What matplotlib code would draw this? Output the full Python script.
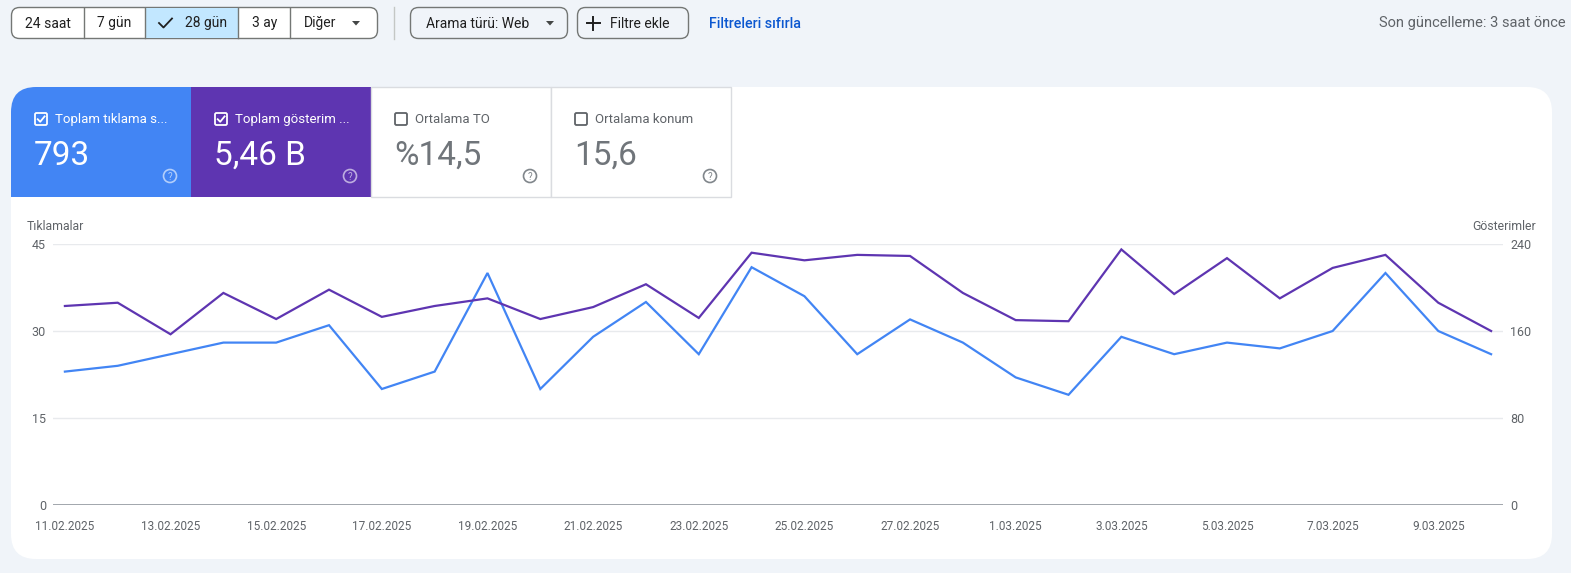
import matplotlib
matplotlib.use("Agg")
import matplotlib.pyplot as plt
from matplotlib.patches import FancyBboxPatch, Rectangle, Circle, Polygon

# ---------------- data ----------------
dates = ["11.02.2025", "12.02.2025", "13.02.2025", "14.02.2025", "15.02.2025",
         "16.02.2025", "17.02.2025", "18.02.2025", "19.02.2025", "20.02.2025",
         "21.02.2025", "22.02.2025", "23.02.2025", "24.02.2025", "25.02.2025",
         "26.02.2025", "27.02.2025", "28.02.2025", "1.03.2025", "2.03.2025",
         "3.03.2025", "4.03.2025", "5.03.2025", "6.03.2025", "7.03.2025",
         "8.03.2025", "9.03.2025", "10.03.2025"]
clicks = [23, 24, 26, 28, 28, 31, 20, 23, 40, 20, 29, 35, 26, 41, 36, 26, 32, 28,
          22, 19, 29, 26, 28, 27, 30, 40, 30, 26]
impressions = [183, 186, 157, 195, 171, 198, 173, 183, 190, 171, 182, 203, 172, 232,
               225, 230, 229, 195, 170, 169, 235, 194, 227, 190, 218, 230, 186, 160]
left_ticks = [0, 15, 30, 45]
right_ticks = [0, 80, 160, 240]
metric_titles = ["Toplam tıklama s...", "Toplam gösterim ...", "Ortalama TO", "Ortalama konum"]
metric_values = ["793", "5,46 B", "%14,5", "15,6"]
range_buttons = ["24 saat", "7 gün", "28 gün", "3 ay", "Diğer"]

# ---------------- style ----------------
plt.rcParams['font.family'] = ['Roboto', 'DejaVu Sans']
W, H = 1571, 573
PAGE = '#f0f4f9'
BLUE = '#4285f4'
PURPLE = '#5e35b1'
GRAY = '#5f6368'
DARK = '#1f1f1f'

fig = plt.figure(figsize=(W / 100, H / 100), dpi=100, facecolor=PAGE)
bg = fig.add_axes([0, 0, 1, 1], zorder=0)
bg.set_xlim(0, W)
bg.set_ylim(H, 0)
bg.axis('off')
bg.set_facecolor(PAGE)

# ---- top bar ----
bg.add_patch(FancyBboxPatch((11.5, 7.5), 366, 31, boxstyle="round,pad=0,rounding_size=8",
                            fc='white', ec='#747775', lw=1, zorder=1))
bg.add_patch(Rectangle((145, 8), 93, 30, fc='#c2e7ff', ec='none', zorder=1.5))
for xd in [84, 145, 238, 290]:
    bg.plot([xd, xd], [8, 38], color='#747775', lw=1, zorder=2)
seg_centers = [47.5, 114.5, 206, 264.5, 320]
for i, (lab, cx) in enumerate(zip(range_buttons, seg_centers)):
    bg.text(cx, 23.5, lab, fontsize=10, color=DARK, ha='center', va='center', zorder=3)
# check mark for selected segment
bg.plot([159, 163.5, 172], [23, 27.5, 18.5], color=DARK, lw=1.3, zorder=3)
# dropdown triangle
bg.add_patch(Polygon([[352, 21], [360, 21], [356, 25.5]], closed=True, fc='#444746', ec='none', zorder=3))

# separator
bg.plot([394.5, 394.5], [7, 39], color='#c4c7c5', lw=1, zorder=2)

# Arama türü button
bg.add_patch(FancyBboxPatch((410.5, 7.5), 157, 31, boxstyle="round,pad=0,rounding_size=8",
                            fc='none', ec='#747775', lw=1, zorder=2))
bg.text(426, 23.5, "Arama türü: Web", fontsize=10, color=DARK, ha='left', va='center', zorder=3)
bg.add_patch(Polygon([[546, 21], [554, 21], [550, 25.5]], closed=True, fc='#444746', ec='none', zorder=3))

# Filtre ekle button
bg.add_patch(FancyBboxPatch((577.5, 7.5), 111, 31, boxstyle="round,pad=0,rounding_size=8",
                            fc='none', ec='#747775', lw=1, zorder=2))
bg.plot([587, 600], [23, 23], color=DARK, lw=1.4, zorder=3)
bg.plot([593.5, 593.5], [16.5, 29.5], color=DARK, lw=1.4, zorder=3)
bg.text(610, 23.5, "Filtre ekle", fontsize=10, color=DARK, ha='left', va='center', zorder=3)

bg.text(709, 23.5, "Filtreleri sıfırla", fontsize=10.3, color='#0b57d0', ha='left', va='center',
        fontweight='medium', zorder=3)
bg.text(1566, 23.5, "Son güncelleme: 3 saat önce", fontsize=10.5, color=GRAY, ha='right',
        va='center', zorder=3)

# ---- card ----
bg.add_patch(FancyBboxPatch((11, 87), 1541, 472, boxstyle="round,pad=0,rounding_size=25",
                            fc='white', ec='none', zorder=1))

# metric tiles
for i in range(4):
    x0 = 11 + 180 * i
    if i == 0:
        bg.add_patch(FancyBboxPatch((x0, 87), 180, 110, boxstyle="round,pad=0,rounding_size=25",
                                    fc=BLUE, ec='none', zorder=2))
        bg.add_patch(Rectangle((x0 + 40, 87), 140, 110, fc=BLUE, ec='none', zorder=2))
        bg.add_patch(Rectangle((x0, 130), 180, 67, fc=BLUE, ec='none', zorder=2))
    elif i == 1:
        bg.add_patch(Rectangle((x0, 87), 180, 110, fc=PURPLE, ec='none', zorder=2))
    else:
        bg.add_patch(Rectangle((x0, 87), 180, 110, fc='white', ec='#dadce0', lw=1, zorder=2))
    active = i < 2
    fg = 'white' if active else GRAY
    # checkbox
    bx, by = x0 + 24, 113
    bg.add_patch(FancyBboxPatch((bx, by), 12, 12, boxstyle="round,pad=0,rounding_size=1.5",
                                fc='none', ec=fg, lw=1.3, zorder=3))
    if active:
        bg.plot([bx + 2.7, bx + 5.2, bx + 9.6], [by + 6.2, by + 8.8, by + 3.4], color=fg, lw=1.3, zorder=4)
    bg.text(x0 + 44, 119.5, metric_titles[i], fontsize=9.5, color=fg, ha='left', va='center', zorder=4)
    bg.text(x0 + 23, 156, metric_values[i], fontsize=24, color=fg if active else '#70757a',
            ha='left', va='center', zorder=4)
    # help icon
    cx, cy = x0 + 159, 176
    ic = (1, 1, 1, 0.6) if active else '#80868b'
    bg.add_patch(Circle((cx, cy), 6.5, fc='none', ec=ic, lw=1.2, zorder=4))
    bg.text(cx, cy + 0.5, "?", fontsize=7, color=ic, ha='center', va='center', zorder=4)

# ---- chart ----
ax = fig.add_axes([53 / W, (H - 505) / H, 1450 / W, 261 / H], zorder=2)
ax.set_facecolor('none')
ax2 = ax.twinx()
ax2.set_facecolor('none')

x = list(range(len(dates)))
step_px = 1438 / 27.0
pad = 12 / step_px
ax.set_xlim(-pad, len(dates) - 1 + pad)
ax.set_ylim(0, 45)
ax2.set_ylim(0, 240)

ax.grid(axis='y', color='#e8eaed', lw=1)
ax.set_axisbelow(True)
ax.axhline(0, color='#9aa0a6', lw=1.3, zorder=1)

ax.plot(x, clicks, color=BLUE, lw=1.6, zorder=3, solid_joinstyle='miter')
ax2.plot(x, impressions, color=PURPLE, lw=1.6, zorder=3, solid_joinstyle='miter')

for a in (ax, ax2):
    for s in a.spines.values():
        s.set_visible(False)

ax.set_yticks(left_ticks)
ax.set_yticklabels([str(t) for t in left_ticks])
ax2.set_yticks(right_ticks)
ax2.set_yticklabels([str(t) for t in right_ticks])
ax.tick_params(axis='y', length=0, pad=5, labelsize=9, labelcolor=GRAY)
ax2.tick_params(axis='y', length=0, pad=5, labelsize=9, labelcolor=GRAY)

xt = x[::2]
ax.set_xticks(xt)
ax.set_xticklabels([dates[i] for i in xt])
ax.tick_params(axis='x', length=0, pad=11, labelsize=8.5, labelcolor=GRAY)

bg.text(27, 227, "Tıklamalar", fontsize=8.8, color=GRAY, ha='left', va='center', zorder=3)
bg.text(1536, 227, "Gösterimler", fontsize=8.8, color=GRAY, ha='right', va='center', zorder=3)

fig.savefig("out.png", dpi=100, facecolor=PAGE)
